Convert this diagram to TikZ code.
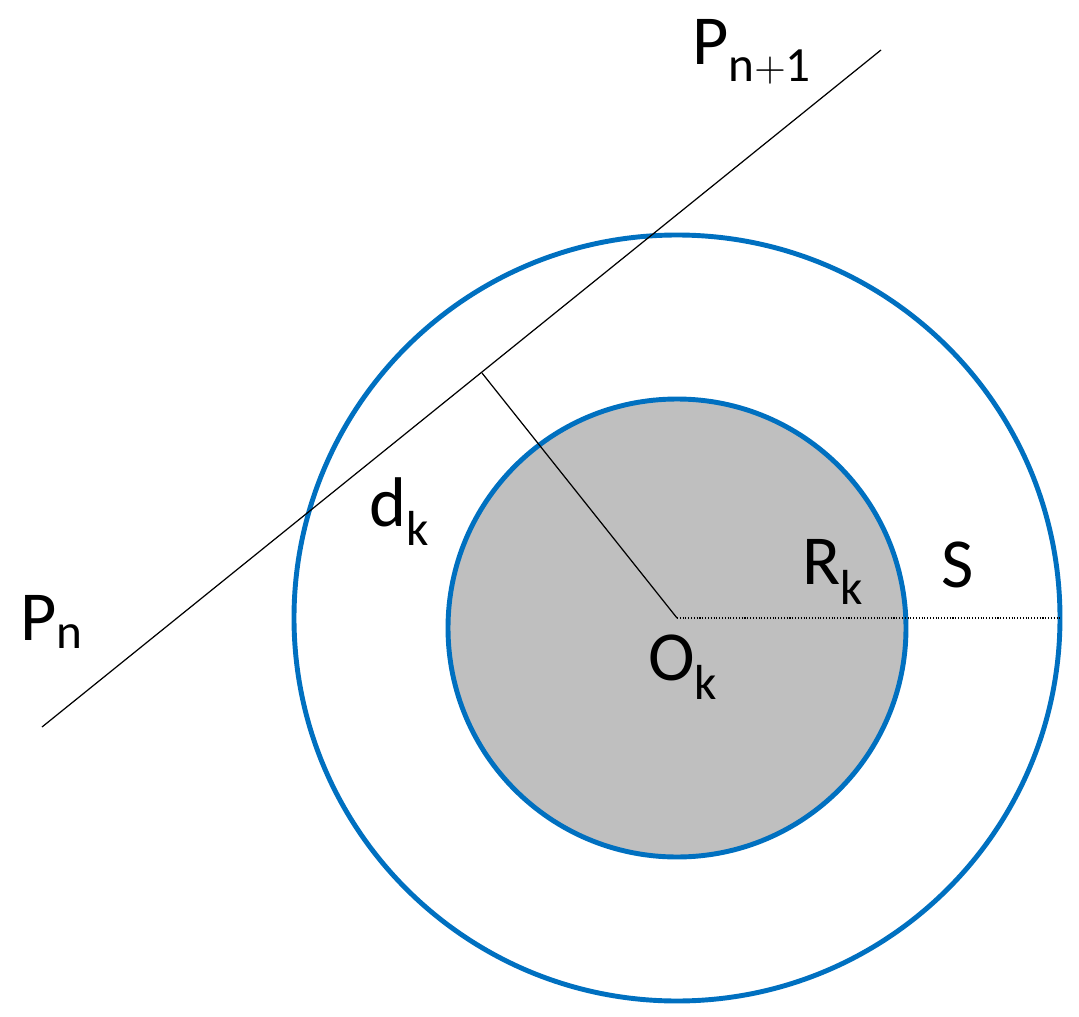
\documentclass[tikz,border=0pt]{standalone}
\usepackage{fontspec}
\setmainfont{Carlito}
\definecolor{ringblue}{RGB}{0,112,192}
\definecolor{coregray}{RGB}{191,191,191}
\begin{document}
\begin{tikzpicture}[x=0.02cm,y=-0.02cm,
    circ/.style={ringblue, line width=2.8pt},
    lbl/.style={font=\fontsize{40}{44}\selectfont, inner sep=0pt}]
  \useasboundingbox (0,0) rectangle (1079,1017);

  % ====== CENTRE AND LINE ======
  \coordinate (O) at (677,618);
  \coordinate (Ci) at (677,628);
  \coordinate (Pa) at (42,727);
  \coordinate (Pb) at (881,50);
  \coordinate (F) at (482,373);
  \coordinate (Sr) at (1060,618);

  % Inner disc and outer circle
  \fill[coregray] (Ci) circle (229);
  \draw[circ] (Ci) circle (229);
  \draw[circ] (O) circle (383);

  % Line and distance
  \draw[line width=0.7pt] (Pa) -- (Pb);
  \draw[line width=0.7pt] (O) -- (F);
  \draw[densely dotted, line width=0.6pt] (O) -- (Sr);

  % Labels
  \node[lbl] (pn1) at (752,52) {P$_{\mathrm{n+1}}$};
  \node[lbl] (pn) at (52,622) {P$_{\mathrm{n}}$};
  \node[lbl] (dk) at (400,512) {d$_{\mathrm{k}}$};
  \node[lbl] (rk) at (833,572) {R$_{\mathrm{k}}$};
  \node[lbl] (s) at (958,565) {S};
  \node[lbl] (ok) at (683,667) {O$_{\mathrm{k}}$};
\end{tikzpicture}
\end{document}
